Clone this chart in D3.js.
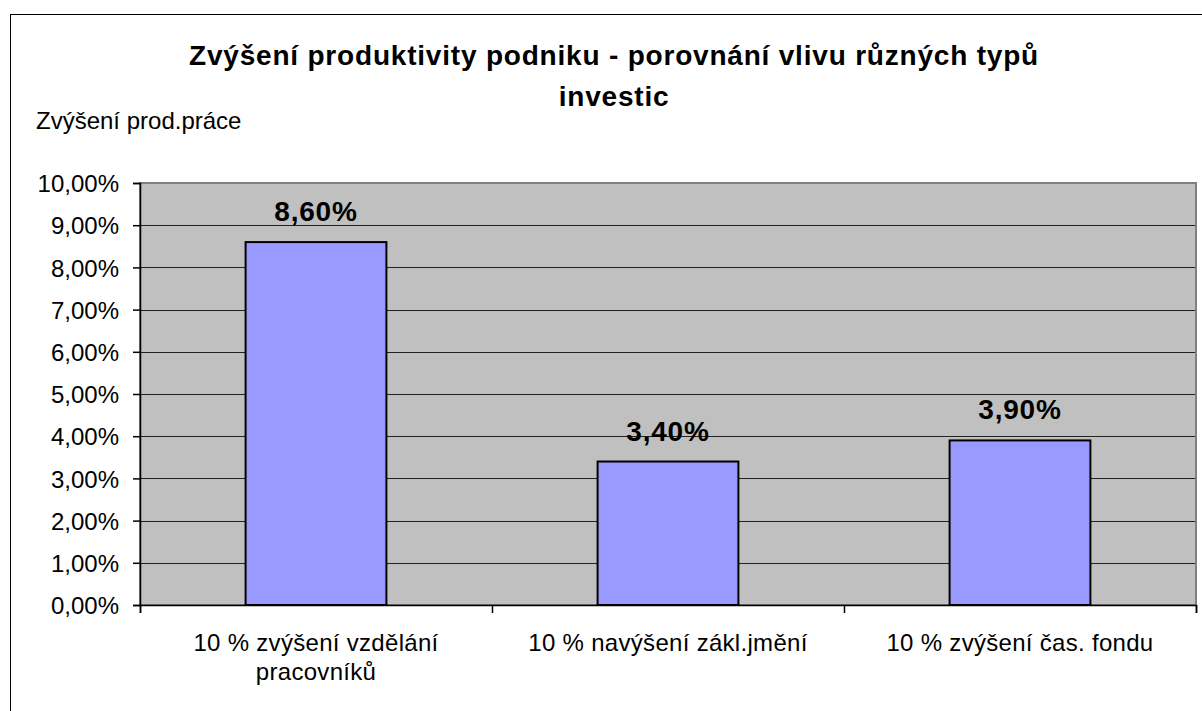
<!DOCTYPE html>
<html>
<head>
<meta charset="utf-8">
<script src="https://cdn.jsdelivr.net/npm/d3@7"></script>
<style>
  body { margin: 0; background: #fff; }
  text { font-family: "Liberation Sans", Arial, sans-serif; }
</style>
</head>
<body>
<script>
// chart data
var categories = [
    ["10 % zvýšení vzdělání", "pracovníků"],
    ["10 % navýšení zákl.jmění"],
    ["10 % zvýšení čas. fondu"]
];
var values = [8.6, 3.4, 3.9];
var yTicks = [0, 1, 2, 3, 4, 5, 6, 7, 8, 9, 10];
var titleLines = ["Zvýšení produktivity podniku - porovnání vlivu různých typů", "investic"];
var yTitle = "Zvýšení prod.práce";

var w = 1202, h = 711;
var plotLeft = 140, plotRight = 1196, plotTop = 183, plotBottom = 605;

var fmt = function (v) {
    return v.toFixed(2).replace(".", ",") + "%";
};

var svg = d3.select("body")
    .append("svg")
    .attr("width", w)
    .attr("height", h);

// outer chart border
svg.append("rect")
    .attr("x", 10.5).attr("y", 14.5)
    .attr("width", 1220).attr("height", 720)
    .attr("fill", "#fff")
    .attr("stroke", "#000")
    .attr("stroke-width", 1);

var x = d3.scaleBand()
    .domain(d3.range(categories.length))
    .range([plotLeft, plotRight])
    .paddingInner(0.6)
    .paddingOuter(0.3);

var y = d3.scaleLinear()
    .domain([0, 10])
    .range([plotBottom, plotTop]);

// plot background
svg.append("rect")
    .attr("x", plotLeft).attr("y", plotTop)
    .attr("width", plotRight - plotLeft).attr("height", plotBottom - plotTop)
    .attr("fill", "#c0c0c0");

// gridlines
svg.append("g").selectAll("line")
    .data(yTicks.slice(1, -1))
    .enter()
    .append("line")
    .attr("x1", plotLeft).attr("x2", plotRight)
    .attr("y1", function (d) { return Math.round(y(d)) + 0.5; })
    .attr("y2", function (d) { return Math.round(y(d)) + 0.5; })
    .attr("stroke", "#222")
    .attr("stroke-width", 1);

// plot border
svg.append("rect")
    .attr("x", plotLeft).attr("y", plotTop)
    .attr("width", plotRight - plotLeft).attr("height", plotBottom - plotTop)
    .attr("fill", "none")
    .attr("stroke", "#808080")
    .attr("stroke-width", 2);

// bars
svg.append("g").selectAll("rect")
    .data(values)
    .enter()
    .append("rect")
    .attr("x", function (d, i) { return x(i); })
    .attr("width", x.bandwidth())
    .attr("y", function (d) { return y(d); })
    .attr("height", function (d) { return plotBottom - y(d); })
    .attr("fill", "#9999ff")
    .attr("stroke", "#000")
    .attr("stroke-width", 2);

// value labels
svg.append("g").selectAll("text")
    .data(values)
    .enter()
    .append("text")
    .attr("x", function (d, i) { return x(i) + x.bandwidth() / 2; })
    .attr("y", function (d) { return y(d) - 21; })
    .attr("text-anchor", "middle")
    .attr("font-size", 28)
    .attr("font-weight", "bold")
    .attr("letter-spacing", 0.8)
    .text(fmt);

// y axis
var yAxis = d3.axisLeft(y)
    .tickValues(yTicks)
    .tickSize(7)
    .tickPadding(14)
    .tickFormat(fmt);

var yg = svg.append("g")
    .attr("transform", "translate(" + plotLeft + ",0)")
    .call(yAxis);
yg.select(".domain").attr("stroke", "#000").attr("stroke-width", 1.5);
yg.selectAll(".tick line").attr("stroke", "#000").attr("stroke-width", 1.5);
yg.selectAll(".tick text")
    .attr("font-size", 24)
    .attr("font-family", "Liberation Sans, Arial, sans-serif")
    .attr("fill", "#000")
    .attr("dy", "0.36em");

// x axis: category boundary ticks
var xb = d3.scaleLinear().domain([0, categories.length]).range([plotLeft, plotRight]);
var xg = svg.append("g")
    .attr("transform", "translate(0," + plotBottom + ")")
    .call(d3.axisBottom(xb).ticks(categories.length).tickSize(8).tickFormat(""));
xg.select(".domain").attr("stroke", "#000").attr("stroke-width", 1.5);
xg.selectAll(".tick line").attr("stroke", "#000").attr("stroke-width", 1.5);

// category labels
var cl = svg.append("g").selectAll("text")
    .data(categories)
    .enter()
    .append("text")
    .attr("x", function (d, i) { return x(i) + x.bandwidth() / 2; })
    .attr("y", 651)
    .attr("text-anchor", "middle")
    .attr("font-size", 24)
    .attr("letter-spacing", 0.3);
cl.selectAll("tspan")
    .data(function (d) { return d; })
    .enter()
    .append("tspan")
    .attr("x", function () { return d3.select(this.parentNode).attr("x"); })
    .attr("dy", function (d, i) { return i ? 29 : 0; })
    .text(function (d) { return d; });

// title
svg.append("g").selectAll("text")
    .data(titleLines)
    .enter()
    .append("text")
    .attr("x", 614)
    .attr("y", function (d, i) { return 65 + i * 41; })
    .attr("text-anchor", "middle")
    .attr("font-size", 28)
    .attr("font-weight", "bold")
    .attr("letter-spacing", 0.8)
    .text(function (d) { return d; });

// y axis title
svg.append("text")
    .attr("x", 36)
    .attr("y", 129)
    .attr("font-size", 24)
    .text(yTitle);
</script>
</body>
</html>
